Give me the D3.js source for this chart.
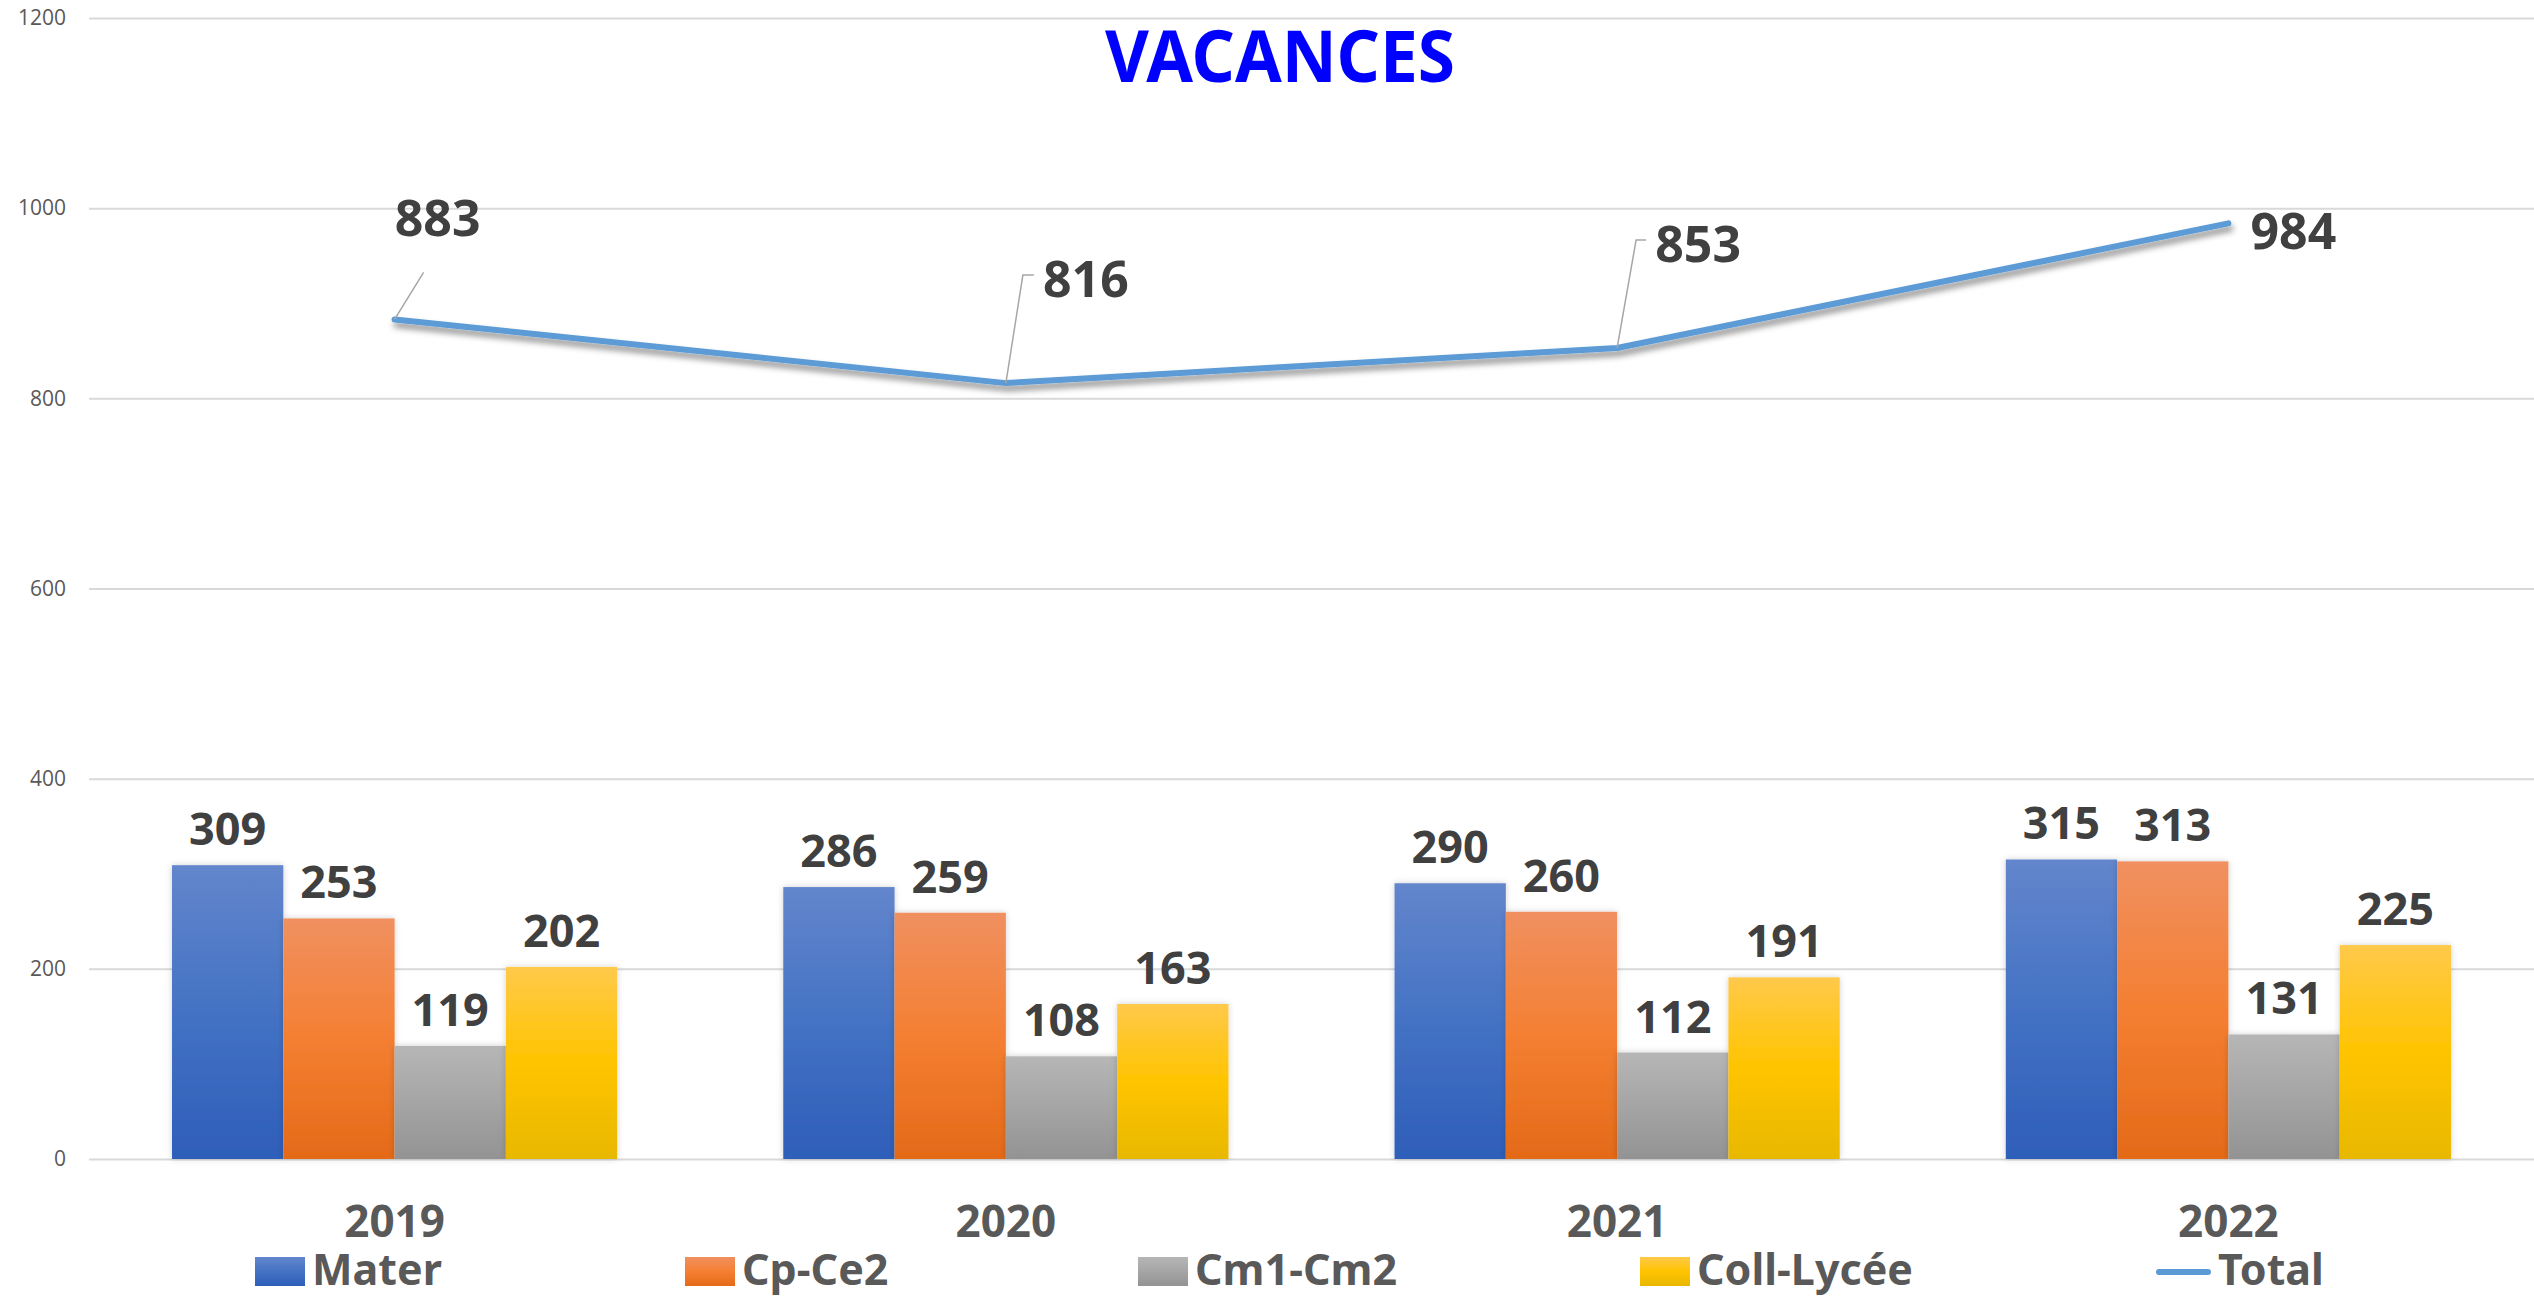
<!DOCTYPE html>
<html>
<head>
<meta charset="utf-8">
<script src="https://cdn.jsdelivr.net/npm/d3@7"></script>
<style>
    body { margin: 0; background: #fff; }
    svg { display: block; }
</style>
</head>
<body>
<div id="chart"></div>
<script>
// chart data
var years = ["2019", "2020", "2021", "2022"];
var seriesNames = ["Mater", "Cp-Ce2", "Cm1-Cm2", "Coll-Lycée"];
var mater = [309, 286, 290, 315];
var cpCe2 = [253, 259, 260, 313];
var cm1Cm2 = [119, 108, 112, 131];
var collLycee = [202, 163, 191, 225];
var total = [883, 816, 853, 984];
var yTicks = [0, 200, 400, 600, 800, 1000, 1200];
var totalName = "Total";
var title = "VACANCES";

drawChart();

function drawChart() {
    var W = 2534, H = 1297;
    var margin = { top: 18, right: 0, bottom: 138, left: 89 };
    var width = W - margin.left - margin.right;
    var height = H - margin.top - margin.bottom;
    var labelFont = "'Comic Sans MS', 'Noto Sans', sans-serif";

    var values = [mater, cpCe2, cm1Cm2, collLycee];
    var rows = years.map(function(y, i) {
        return { year: y, vals: values.map(function(v, j) { return { name: seriesNames[j], value: v[i] }; }) };
    });

    var x0 = d3.scaleBand()
        .domain(years)
        .range([0, width])
        .paddingInner(0.2717)
        .paddingOuter(0.1358);

    var x1 = d3.scaleBand()
        .domain(seriesNames)
        .range([0, x0.bandwidth()]);

    var y = d3.scaleLinear()
        .domain([0, 1200])
        .range([height, 0]);

    var svg = d3.select("#chart").append("svg")
        .attr("width", W)
        .attr("height", H);

    var defs = svg.append("defs");
    var grads = [
        ["#6386cc", "#4472c4", "#2e5eb9"],
        ["#f09060", "#f47f32", "#e46a18"],
        ["#b6b6b6", "#a5a5a5", "#939393"],
        ["#ffc94a", "#ffc400", "#e8b800"]
    ];
    grads.forEach(function(g, i) {
        var lg = defs.append("linearGradient")
            .attr("id", "grad" + i)
            .attr("x1", 0).attr("y1", 0).attr("x2", 0).attr("y2", 1);
        lg.append("stop").attr("offset", "0%").attr("stop-color", g[0]);
        lg.append("stop").attr("offset", "50%").attr("stop-color", g[1]);
        lg.append("stop").attr("offset", "100%").attr("stop-color", g[2]);
    });
    defs.append("filter").attr("id", "barShadow")
        .attr("x", "-20%").attr("y", "-20%").attr("width", "140%").attr("height", "140%")
        .append("feDropShadow")
        .attr("dx", 0).attr("dy", 0).attr("stdDeviation", 3)
        .attr("flood-color", "#000").attr("flood-opacity", 0.18);
    defs.append("filter").attr("id", "lineShadow")
        .attr("x", "-10%").attr("y", "-50%").attr("width", "120%").attr("height", "200%")
        .append("feDropShadow")
        .attr("dx", 2).attr("dy", 5).attr("stdDeviation", 3)
        .attr("flood-color", "#000").attr("flood-opacity", 0.45);

    var g = svg.append("g")
        .attr("transform", "translate(" + margin.left + "," + margin.top + ")");

    // gridlines + y labels
    var yAxis = g.append("g")
        .call(d3.axisLeft(y).tickValues(yTicks).tickFormat(d3.format("d")).tickSize(-width).tickPadding(23));
    yAxis.select(".domain").remove();
    yAxis.selectAll(".tick line")
        .attr("stroke", "#d9d9d9")
        .attr("stroke-width", 2);
    yAxis.selectAll(".tick text")
        .attr("fill", "#595959")
        .style("font-family", "'Open Sans', sans-serif")
        .style("font-size", "21px");

    // title
    svg.append("text")
        .attr("x", 1280)
        .attr("y", 82)
        .attr("text-anchor", "middle")
        .attr("fill", "#0000ff")
        .attr("textLength", 350)
        .attr("lengthAdjust", "spacingAndGlyphs")
        .style("font-family", labelFont)
        .style("font-weight", "bold")
        .style("font-size", "72px")
        .text(title);

    // bars
    var group = g.selectAll(".year")
        .data(rows)
        .enter().append("g")
        .attr("class", "year")
        .attr("transform", function(d) { return "translate(" + x0(d.year) + ",0)"; });

    group.selectAll("rect")
        .data(function(d) { return d.vals; })
        .enter().append("rect")
        .attr("x", function(d) { return x1(d.name); })
        .attr("y", function(d) { return y(d.value); })
        .attr("width", x1.bandwidth())
        .attr("height", function(d) { return height - y(d.value); })
        .attr("fill", function(d, i) { return "url(#grad" + i + ")"; })
        .attr("filter", "url(#barShadow)");

    group.selectAll(".blabel")
        .data(function(d) { return d.vals; })
        .enter().append("text")
        .attr("class", "blabel")
        .attr("x", function(d) { return x1(d.name) + x1.bandwidth() / 2; })
        .attr("y", function(d) { return y(d.value) - 20; })
        .attr("text-anchor", "middle")
        .attr("fill", "#404040")
        .style("font-family", labelFont)
        .style("font-weight", "bold")
        .style("font-size", "45px")
        .text(function(d) { return d.value; });

    // x labels
    g.selectAll(".xlabel")
        .data(years)
        .enter().append("text")
        .attr("class", "xlabel")
        .attr("x", function(d) { return x0(d) + x0.bandwidth() / 2; })
        .attr("y", height + 78)
        .attr("text-anchor", "middle")
        .attr("fill", "#595959")
        .style("font-family", labelFont)
        .style("font-weight", "bold")
        .style("font-size", "44px")
        .text(function(d) { return d; });

    // total line
    var line = d3.line()
        .x(function(d, i) { return x0(years[i]) + x0.bandwidth() / 2; })
        .y(function(d) { return y(d); });

    g.append("path")
        .datum(total)
        .attr("d", line)
        .attr("fill", "none")
        .attr("stroke", "#5b9bd5")
        .attr("stroke-width", 6)
        .attr("stroke-linecap", "round")
        .attr("stroke-linejoin", "round")
        .attr("filter", "url(#lineShadow)");

    // label offsets from each point: label centre (dx, dy baseline) + leader line points
    var lineLabelPos = [
        { dx: 43, dy: -83, leader: [[0, 0], [29, -47]] },
        { dx: 80, dy: -86, leader: [[0, 0], [17, -108], [28, -108]] },
        { dx: 81, dy: -86, leader: [[0, 0], [19, -108], [29, -108]] },
        { dx: 65, dy: 26, leader: null }
    ];

    total.forEach(function(v, i) {
        var px = x0(years[i]) + x0.bandwidth() / 2, py = y(v);
        var p = lineLabelPos[i];
        if (p.leader) {
            g.append("path")
                .attr("d", d3.line()(p.leader.map(function(q) { return [px + q[0], py + q[1]]; })))
                .attr("fill", "none")
                .attr("stroke", "#a6a6a6")
                .attr("stroke-width", 1.5);
        }
        g.append("text")
            .attr("x", px + p.dx)
            .attr("y", py + p.dy)
            .attr("text-anchor", "middle")
            .attr("fill", "#404040")
            .style("font-family", labelFont)
            .style("font-weight", "bold")
            .style("font-size", "50px")
            .text(v);
    });

    // legend
    var legendX = [255, 685, 1138, 1640, 2156];
    var legendY = 1270;
    var legendNames = seriesNames.concat([totalName]);
    var leg = svg.selectAll(".legend")
        .data(legendNames)
        .enter().append("g")
        .attr("class", "legend")
        .attr("transform", function(d, i) { return "translate(" + legendX[i] + "," + legendY + ")"; });

    leg.each(function(d, i) {
        var s = d3.select(this);
        if (i < 4) {
            s.append("rect")
                .attr("x", 0).attr("y", -13)
                .attr("width", 50).attr("height", 29)
                .attr("fill", "url(#grad" + i + ")");
        } else {
            s.append("line")
                .attr("x1", 3).attr("x2", 52)
                .attr("y1", 2).attr("y2", 2)
                .attr("stroke", "#5b9bd5")
                .attr("stroke-width", 6)
                .attr("stroke-linecap", "round");
        }
        s.append("text")
            .attr("x", i < 4 ? 57 : 62)
            .attr("y", 15)
            .attr("fill", "#595959")
            .style("font-family", labelFont)
            .style("font-weight", "bold")
            .style("font-size", "43px")
            .text(d);
    });
}
</script>
</body>
</html>
